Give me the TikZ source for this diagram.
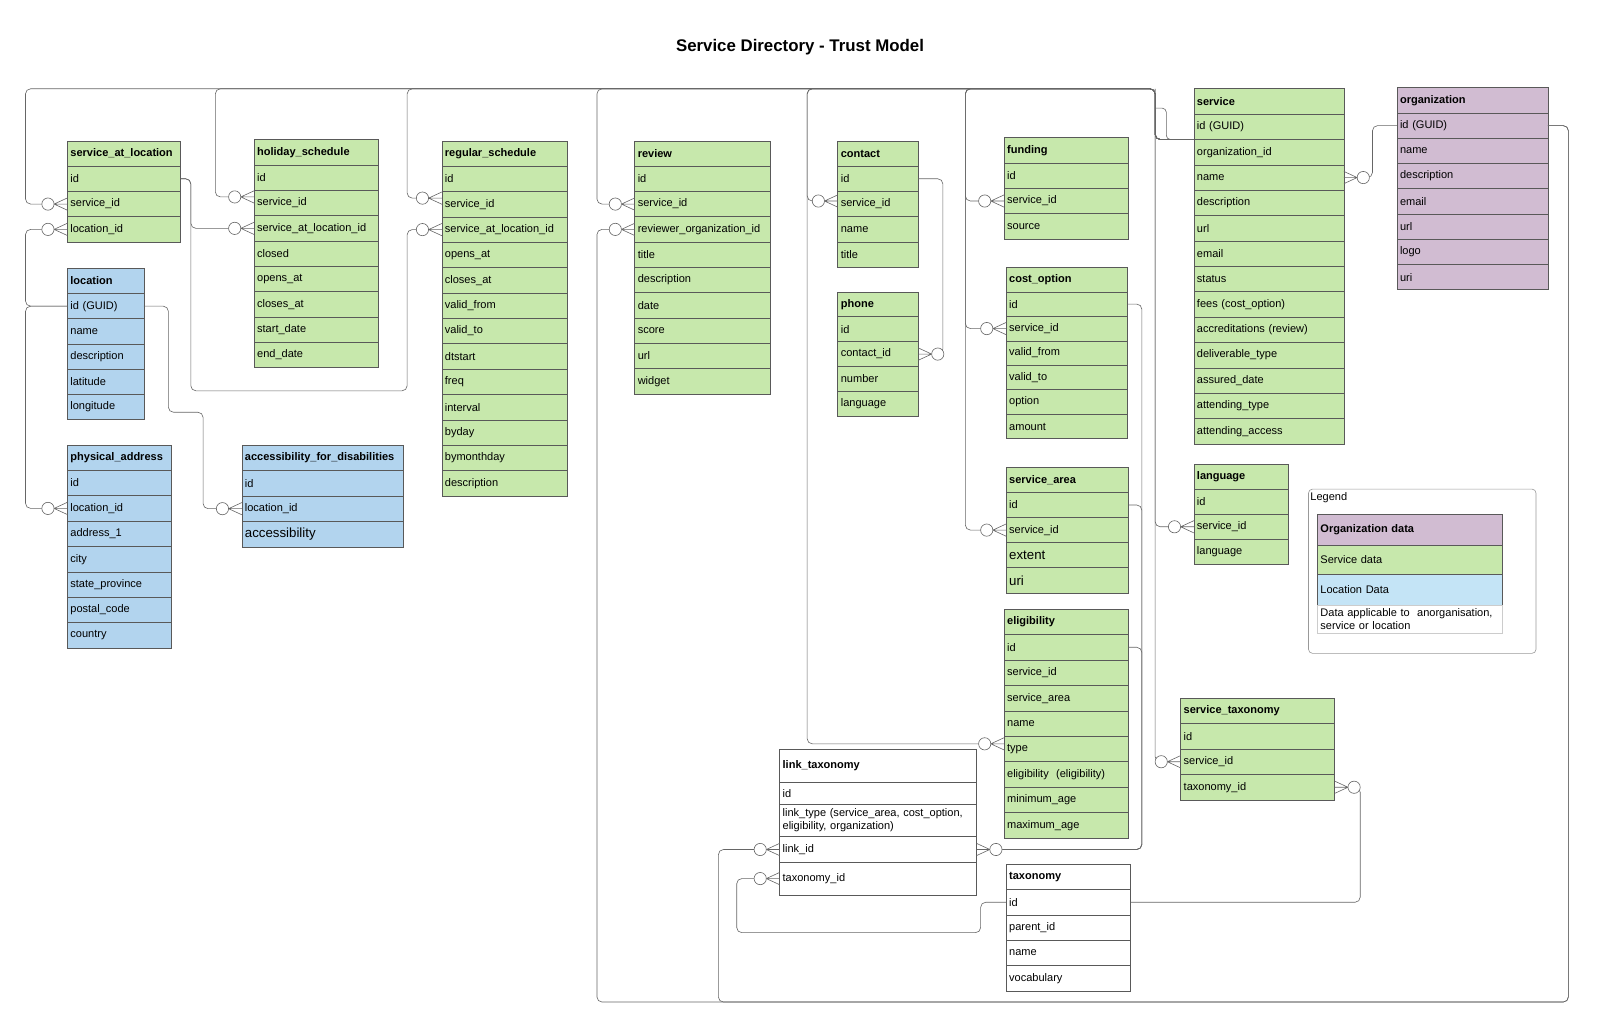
\documentclass[tikz,border=0pt]{standalone}
\usepackage{fontspec}
\setmainfont{Liberation Sans}
\usetikzlibrary{positioning}
\definecolor{erdgreen}{HTML}{C7E8AC}
\definecolor{erdblue}{HTML}{B2D4EE}
\definecolor{erdsky}{HTML}{C4E4F6}
\definecolor{erdpurple}{HTML}{D1BCD2}
\definecolor{erdline}{HTML}{595959}
\newcommand{\rowfont}{\fontsize{10.8}{13}\selectfont}
\newcommand{\bigfont}{\fontsize{13}{15}\selectfont}
\tikzset{
  cell/.style={draw=erdline,line width=0.6pt,anchor=north west,inner xsep=3pt,inner ysep=0pt,outer sep=0pt,align=left,font=\rowfont},
  hcell/.style={cell,font=\rowfont\bfseries},
  conn/.style={draw=black!60,line width=0.6pt,rounded corners=5pt},
  zmany/.pic={
    \draw[conn,sharp corners] (-13,0) -- (0,-6) (-13,0) -- (0,0) (-13,0) -- (0,6);
    \draw[conn,fill=white] (-19,0) circle[radius=6pt];
  },
}
% \ertable[row height]{name}{x,y}{width}{colour}{title}{fields}
\newcommand{\ertable}[7][24.8]{%
  \pgfmathsetmacro{\tw}{#4-6}
  \node[hcell,fill=#5,text width=\tw pt,minimum height=#1pt] (#2-0) at (#3) {#6};
  \foreach \f [count=\i from 1] in {#7} {
    \pgfmathtruncatemacro{\p}{\i-1}
    \node[cell,fill=#5,text width=\tw pt,minimum height=#1pt,below=0pt of #2-\p] (#2-\i) {\f};
  }%
}

\begin{document}
\begin{tikzpicture}[x=1pt,y=-1pt]
  \useasboundingbox (0,0) rectangle (1568,1008);
  \node[font=\fontsize{16.5}{20}\selectfont\bfseries] (title) at (784,46) {Service Directory - Trust Model};

  % tables
  \ertable{sal}{66,138}{111}{erdgreen}{service\_at\_location}{id,service\_id,location\_id}
  \ertable[24.7]{loc}{66,263}{75}{erdblue}{location}{id (GUID),name,description,latitude,longitude}
  \ertable[24.9]{phy}{66,436}{102}{erdblue}{physical\_address}{id,location\_id,address\_1,city,state\_province,postal\_code,country}
  \ertable{hol}{249,137}{122}{erdgreen}{holiday\_schedule}{id,service\_id,service\_at\_location\_id,closed,opens\_at,closes\_at,start\_date,end\_date}
  \ertable[25]{acc}{237,436}{158}{erdblue}{accessibility\_for\_disabilities}{id,location\_id,{\bigfont accessibility}}
  \ertable[24.86]{reg}{433,138}{123}{erdgreen}{regular\_schedule}{id,service\_id,service\_at\_location\_id,opens\_at,closes\_at,valid\_from,valid\_to,dtstart,freq,interval,byday,bymonthday,description}
  \ertable{rev}{622,138}{133}{erdgreen}{review}{id,service\_id,reviewer\_organization\_id,title,description,date,score,url,widget}
  \ertable{con}{821,138}{79}{erdgreen}{contact}{id,service\_id,name,title}
  \ertable[24.4]{pho}{821,286}{79}{erdgreen}{phone}{id,contact\_id,number,language}
  \ertable{fun}{984,135}{122}{erdgreen}{funding}{id,service\_id,source}
  \ertable[24]{cst}{986,262}{119}{erdgreen}{cost\_option}{id,service\_id,valid\_from,valid\_to,option,amount}
  \ertable[24.6]{sar}{986,458}{120}{erdgreen}{service\_area}{id,service\_id,{\bigfont extent},{\bigfont uri}}
  \ertable[24.9]{eli}{984,597}{122}{erdgreen}{eligibility}{id,service\_id,service\_area,name,type,eligibility~~(eligibility),minimum\_age,maximum\_age}
  \ertable[24.86]{svc}{1170,87}{147}{erdgreen}{service}{id (GUID),organization\_id,name,description,url,email,status,fees (cost\_option),accreditations (review),deliverable\_type,assured\_date,attending\_type,attending\_access}
  \ertable[24.75]{org}{1369,86}{148}{erdpurple}{organization}{id (GUID),name,description,email,url,logo,uri}
  \ertable[24.5]{lan}{1170,455}{93}{erdgreen}{language}{id,service\_id,language}
  \ertable[25]{stx}{1157,684}{151}{erdgreen}{service\_taxonomy}{id,service\_id,taxonomy\_id}
  \ertable{tax}{986,847}{122}{white}{taxonomy}{id,parent\_id,name,vocabulary}

  % link_taxonomy has uneven rows
  \node[hcell,text width=187pt,minimum height=33pt] (lnk-0) at (764,734) {link\_taxonomy};
  \node[cell,text width=187pt,minimum height=21pt,below=0pt of lnk-0] (lnk-1) {id};
  \node[cell,text width=187pt,minimum height=32pt,below=0pt of lnk-1] (lnk-2) {link\_type (service\_area, cost\_option,\\eligibility, organization)};
  \node[cell,text width=187pt,minimum height=25pt,below=0pt of lnk-2] (lnk-3) {link\_id};
  \node[cell,text width=187pt,minimum height=32pt,below=0pt of lnk-3] (lnk-4) {taxonomy\_id};

  % legend
  \node[draw=black!40,line width=0.6pt,rounded corners=4pt,anchor=north west,minimum width=223pt,minimum height=161pt] (legend) at (1282,479) {};
  \node[anchor=north west,font=\rowfont,inner sep=2pt] (legtitle) at (1282,480) {Legend};
  \node[hcell,fill=erdpurple,text width=175pt,minimum height=30pt] (lg-1) at (1291,504) {Organization data};
  \node[cell,fill=erdgreen,text width=175pt,minimum height=29pt,below=0pt of lg-1] (lg-2) {Service data};
  \node[cell,fill=erdsky,text width=175pt,minimum height=30pt,below=0pt of lg-2] (lg-3) {Location Data};
  \node[cell,draw=black!20,text width=175pt,minimum height=28pt,below=0pt of lg-3] (lg-4) {Data applicable to~~anorganisation,\\service or location};

  % service id -> service_id along the top bus
  \coordinate (sbus) at (1132,87);
  \foreach \x/\t/\dy in {25/sal-2/0,211/hol-2/6,399/reg-2/6,585/rev-2/0,791/con-2/3,791/eli-5/5,946/fun-2/0,946/cst-2/0,946/sar-2/0}
    \draw[conn] (svc-1.south west) -| (sbus) -- (\x,87) |- ([xshift=-19pt,yshift=\dy pt]\t.west);
  \foreach \t in {lan-2,stx-2}
    \draw[conn] (sbus) |- ([xshift=-19pt]\t.west);
  \draw[conn,rounded corners=4pt] (sbus) ++(0,19) coordinate (hump) -- ++(11,0) |- (svc-1.south west);

  % service_at_location, location, contact
  \draw[conn] (sal-1.east) -- ++(10,0) |- ([xshift=-19pt]hol-3.west);
  \draw[conn] (sal-1.east) -- ++(10,0) |- (399,383) |- ([xshift=-19pt]reg-3.west);
  \foreach \t in {sal-3,phy-2}
    \draw[conn] (loc-1.west) -- ++(-41,0) |- ([xshift=-19pt]\t.west);
  \draw[conn] (loc-1.east) -- ++(24,0) |- (199,404) |- ([xshift=-19pt]acc-2.west);
  \draw[conn] (con-1.east) -- ++(24,0) |- ([xshift=19pt]pho-2.east);

  % organization
  \draw[conn] (org-1.west) -- ++(-24,0) |- ([xshift=19pt]svc-3.east);
  \coordinate (bbus) at (1537,982);
  \foreach \x/\t in {585/rev-3,704/lnk-3}
    \draw[conn] (org-1.east) -| (bbus) -- (\x,982) |- ([xshift=-19pt]\t.west);

  % taxonomy links
  \path (lnk-3.east) ++(162,0) coordinate (lbus);
  \foreach \t in {cst-1,sar-1,eli-1}
    \draw[conn] (\t.east) -| (lbus) -- ([xshift=19pt]lnk-3.east);
  \draw[conn] (tax-1.east) -| ([xshift=25pt]stx-3.east) -- ([xshift=19pt]stx-3.east);
  \draw[conn] (tax-1.west) -- ++(-25,0) |- (722,914) |- ([xshift=-19pt]lnk-4.west);

  % zero-or-many ends
  \foreach \t/\dy in {sal-2/0,hol-2/6,reg-2/6,rev-2/0,con-2/3,eli-5/5,fun-2/0,cst-2/0,sar-2/0,lan-2/0,stx-2/0,hol-3/0,reg-3/0,sal-3/0,phy-2/0,acc-2/0,rev-3/0,lnk-3/0,lnk-4/0}
    \pic at ([yshift=\dy pt]\t.west) {zmany};
  \foreach \t in {pho-2,svc-3,lnk-3,stx-3}
    \pic[xscale=-1] at (\t.east) {zmany};
\end{tikzpicture}
\end{document}
